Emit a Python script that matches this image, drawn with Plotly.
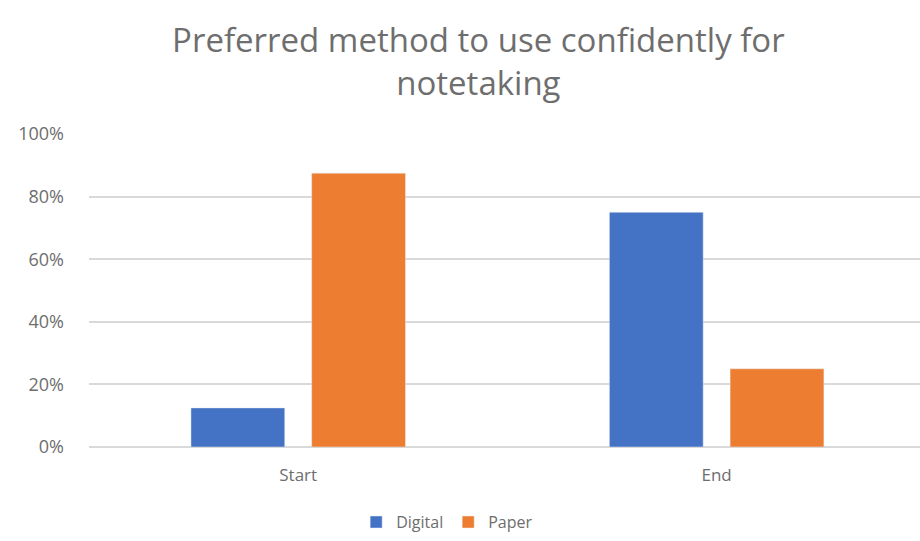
import plotly.graph_objects as go

categories = ["Start", "End"]
digital = [0.125, 0.75]
paper = [0.875, 0.25]
y_ticks = [0, 0.2, 0.4, 0.6, 0.8, 1.0]
y_tick_labels = ["0%", "20%", "40%", "60%", "80%", "100%"]
title_text = "Preferred method to use confidently for<br>notetaking"

FONT = "Open Sans"
GREY = "#6e6e6e"

fig = go.Figure()
fig.add_trace(go.Bar(name="Digital", x=categories, y=digital, marker_color="#4472C4"))
fig.add_trace(go.Bar(name="Paper", x=categories, y=paper, marker_color="#ED7D31"))

fig.update_layout(
    width=920, height=541,
    margin=dict(l=89, r=0, t=134, b=94),
    paper_bgcolor="white", plot_bgcolor="white",
    barmode="group", bargap=0.423, bargroupgap=0.223,
    font=dict(family=FONT, color=GREY, size=17),
    title=dict(text=title_text, x=0.52, xref="container", xanchor="center",
               y=1 - 52 / 541, yref="container", yanchor="middle",
               font=dict(family=FONT, size=33, color=GREY)),
    legend=dict(orientation="h", x=0.431, xanchor="center", y=-0.24, yanchor="middle",
                font=dict(size=16, color=GREY), itemwidth=30),
    xaxis=dict(range=[-0.5, 1.486], showline=False, ticks="", showgrid=False,
               ticklabelstandoff=16, tickfont=dict(size=17, color=GREY)),
    yaxis=dict(range=[0, 1], tickvals=y_ticks, ticktext=y_tick_labels,
               showgrid=True, gridcolor="#D9D9D9", gridwidth=1.5,
               zeroline=True, zerolinecolor="#D9D9D9", zerolinewidth=1.5,
               showline=False, ticks="", ticklabelstandoff=24,
               tickfont=dict(size=18, color=GREY)),
)

fig.write_html("out.html")
